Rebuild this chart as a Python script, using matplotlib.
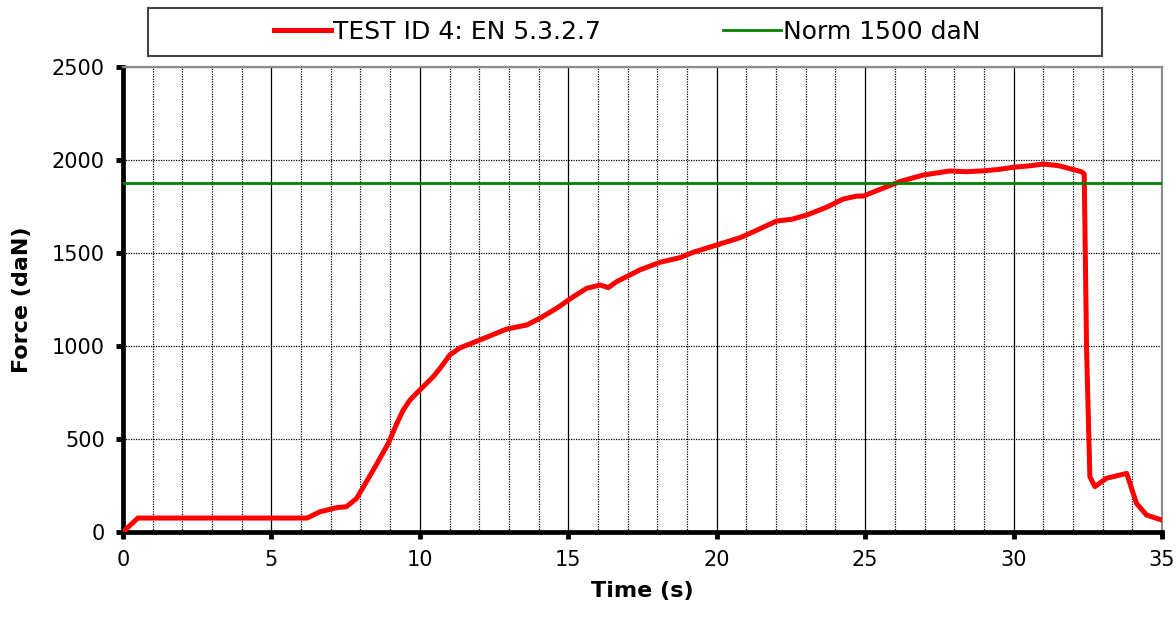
import matplotlib.pyplot as plt
from matplotlib.patches import Rectangle
from matplotlib.ticker import MultipleLocator

# test curve
time = [0, 0.5, 6.2, 6.64, 7.2, 7.53, 7.87, 8.43, 8.94, 9.2, 9.44, 9.67, 9.89,
        10.45, 10.68, 11.01, 11.35, 11.97, 12.92, 13.6, 14.04, 14.61, 15.17,
        15.62, 16.07, 16.35, 16.63, 17.41, 18.09, 18.76, 19.21, 20.0, 20.78,
        21.0, 22.02, 22.52, 23.03, 23.7, 24.26, 24.71, 24.93, 25.5, 26.17,
        26.95, 27.85, 28.42, 29.0, 29.54, 29.99, 30.5, 31.0, 31.5, 32.29,
        32.38, 32.46, 32.57, 32.74, 33.13, 33.81, 34.14, 34.48, 35.0]
force = [0, 75, 75, 109, 131, 136, 181, 333, 477, 575, 656, 710, 746,
         835, 880, 952, 990, 1029, 1091, 1113, 1149, 1203, 1265,
         1310, 1328, 1314, 1346, 1409, 1450, 1475, 1504, 1543, 1582,
         1597, 1672, 1681, 1704, 1746, 1790, 1806, 1806, 1842, 1884,
         1919, 1941, 1937, 1942, 1950, 1961, 1968, 1978, 1970, 1937,
         1925, 978, 297, 244, 289, 315, 154, 91, 64]

norm_level = 1875
test_label = "TEST ID 4: EN 5.3.2.7"
norm_label = "Norm 1500 daN"

fig = plt.figure(figsize=(11.76, 6.18), dpi=100)
ax = fig.add_axes([123/1176, 1-532/618, (1162-123)/1176, (532-67)/618])

red, = ax.plot(time, force, color="#ff0000", lw=3.6, solid_joinstyle="round",
               zorder=3, label=test_label)
green = ax.axhline(norm_level, color="#008000", lw=2, zorder=4, label=norm_label)

ax.set_xlim(0, 35)
ax.set_ylim(0, 2500)
ax.xaxis.set_major_locator(MultipleLocator(5))
ax.xaxis.set_minor_locator(MultipleLocator(1))
ax.yaxis.set_major_locator(MultipleLocator(500))

ax.grid(which="major", axis="x", color="black", lw=0.9, ls="-", zorder=1)
ax.grid(which="minor", axis="x", color="black", lw=0.9, ls=(0, (1, 1)), zorder=1)
ax.grid(which="major", axis="y", color="black", lw=0.9, ls=(0, (1, 1)), zorder=1)

for s in ["left", "bottom"]:
    ax.spines[s].set_linewidth(3.4)
    ax.spines[s].set_color("black")
for s in ["top", "right"]:
    ax.spines[s].set_linewidth(1.6)
    ax.spines[s].set_color("#8c8c8c")

ax.tick_params(which="major", direction="out", length=5, width=3.5,
               labelsize=15, pad=8)
ax.tick_params(which="minor", length=0)

ax.set_xlabel("Time (s)", fontsize=16, fontweight="bold", labelpad=8)
ax.set_ylabel("Force (daN)", fontsize=16, fontweight="bold", labelpad=14)

# legend box above the plot
fig.patches.append(Rectangle((148/1176, 1-56/618), 954/1176, 48/618,
                             transform=fig.transFigure, facecolor="white",
                             edgecolor="#444444", lw=1.5))
fig.legend(handles=[red, green], loc="center",
           bbox_to_anchor=(627/1176, 1-32/618), ncol=2, frameon=False,
           fontsize=18, handlelength=2.3, handletextpad=0.08,
           columnspacing=4.9)

fig.savefig("out.png", dpi=100)
